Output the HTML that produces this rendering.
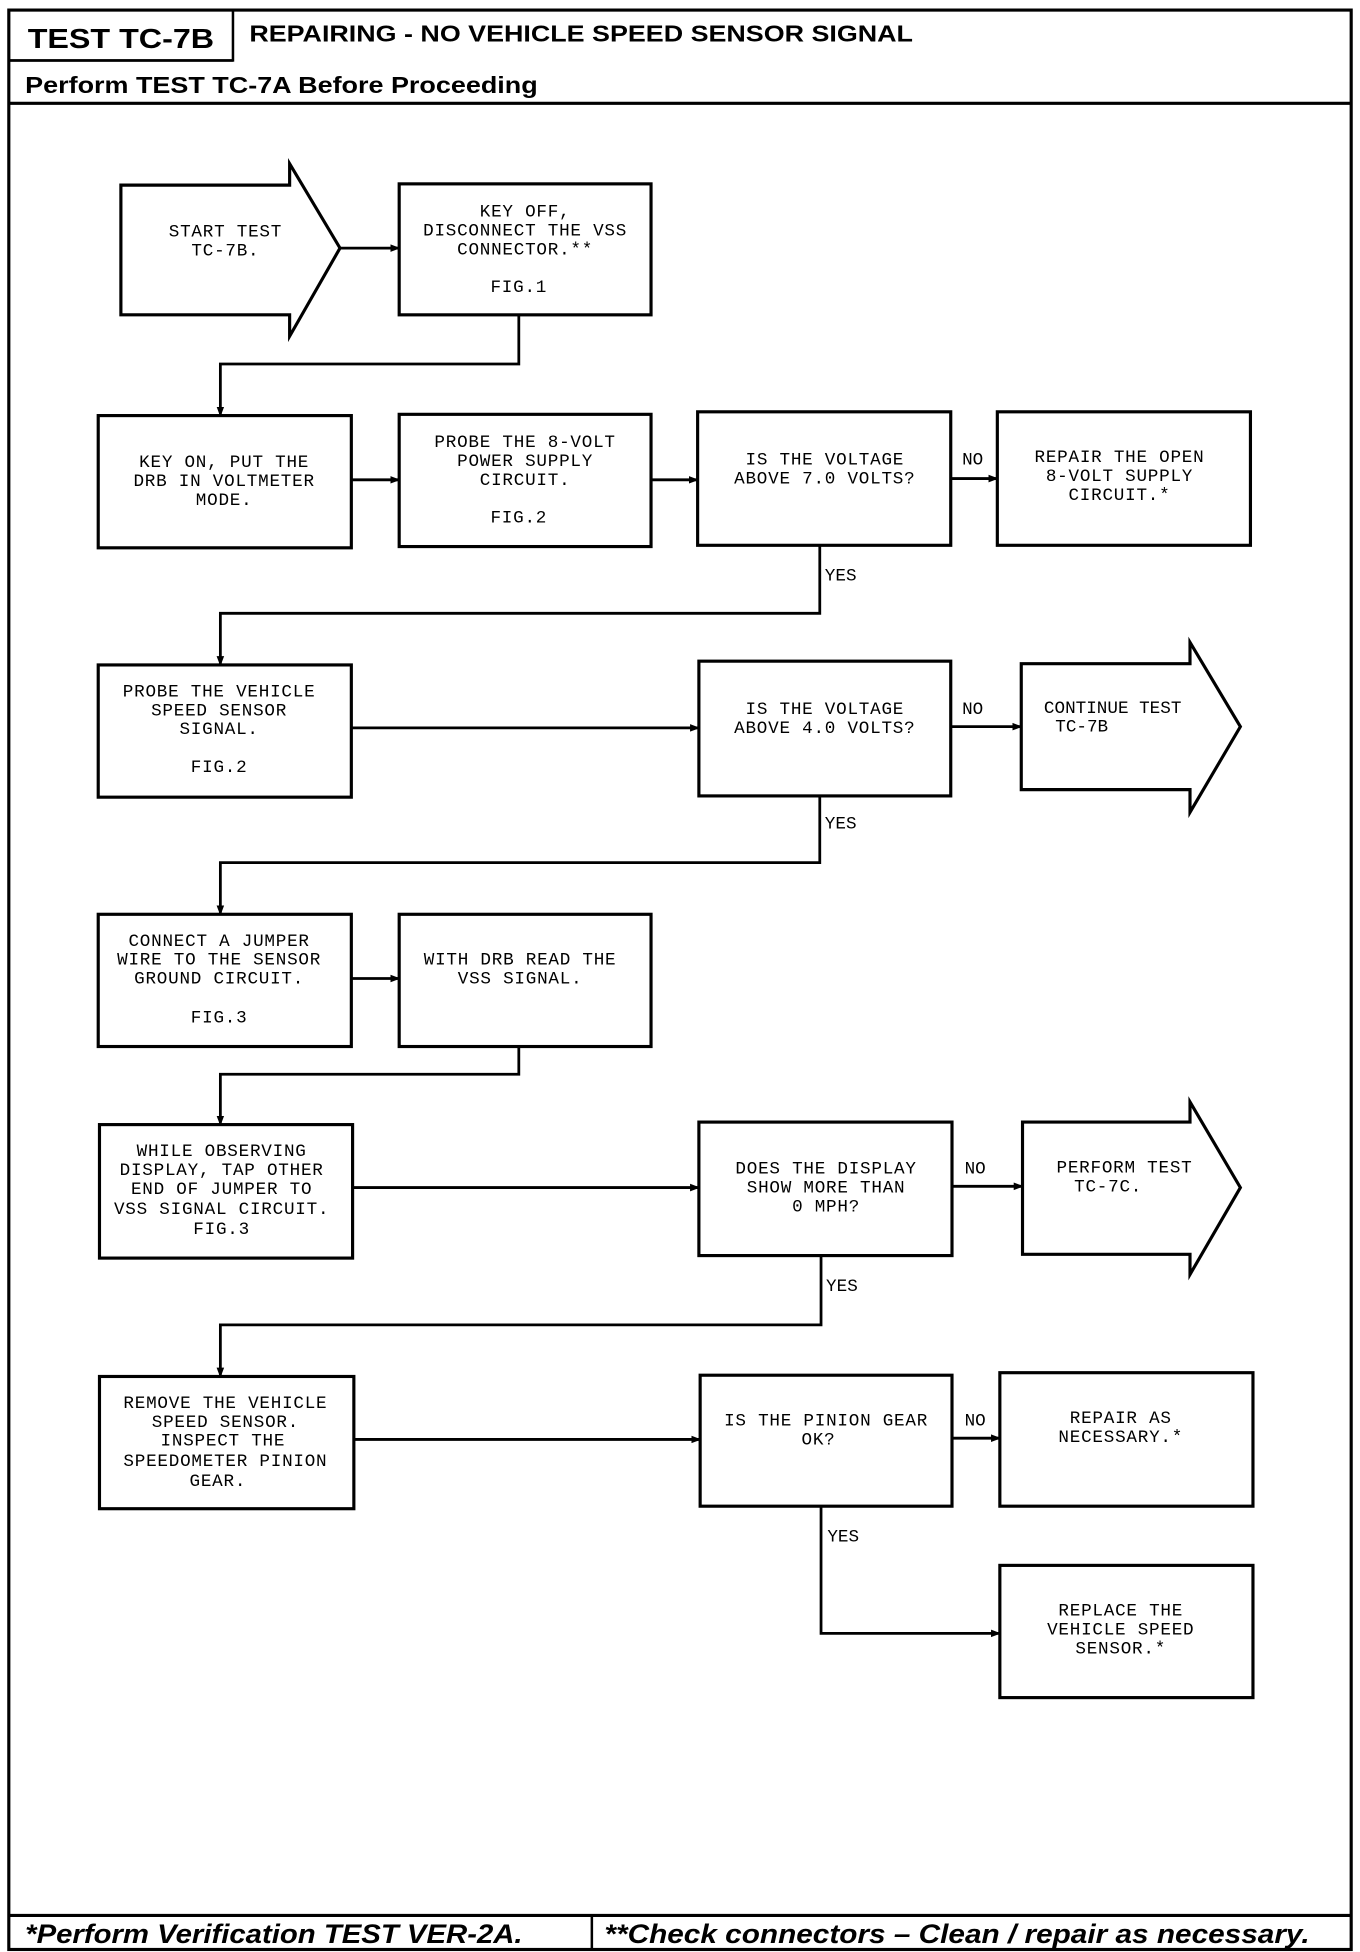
<!DOCTYPE html>
<html><head><meta charset="utf-8"><style>
html,body{margin:0;padding:0;background:#fff;}
svg{display:block;}
.t{font-family:"Liberation Mono",monospace;font-size:14px;letter-spacing:0.6px;text-anchor:middle;fill:#000;}
.l{font-family:"Liberation Mono",monospace;font-size:14px;fill:#000;}
.b{fill:#fff;stroke:#000;stroke-width:2.5;}
.c{fill:none;stroke:#000;stroke-width:2.2;}
.h{font-family:"Liberation Sans",sans-serif;font-weight:bold;fill:#000;}
</style></head><body>
<svg width="1360" height="1952" viewBox="0 0 1080 1550" preserveAspectRatio="none" xmlns="http://www.w3.org/2000/svg">
<defs><marker id="a" markerWidth="8" markerHeight="8" refX="7" refY="4" orient="auto" markerUnits="userSpaceOnUse"><path d="M0,1 L8,4 L0,7z" fill="#000"/></marker></defs>
<rect x="7" y="8" width="1066" height="1540" fill="none" stroke="#000" stroke-width="2.5"/>
<rect x="7" y="8" width="178" height="40" fill="none" stroke="#000" stroke-width="2"/>
<line x1="185" y1="48" x2="7" y2="48" stroke="#000" stroke-width="2"/>
<line x1="7" y1="82" x2="1073" y2="82" stroke="#000" stroke-width="2.5"/>
<text class="h" x="22" y="38" font-size="22" textLength="148" lengthAdjust="spacingAndGlyphs">TEST TC-7B</text>
<text class="h" x="198" y="33" font-size="18" textLength="527" lengthAdjust="spacingAndGlyphs">REPAIRING - NO VEHICLE SPEED SENSOR SIGNAL</text>
<text class="h" x="20" y="74" font-size="18" textLength="407" lengthAdjust="spacingAndGlyphs">Perform TEST TC-7A Before Proceeding</text>
<line x1="7" y1="1521" x2="1073" y2="1521" stroke="#000" stroke-width="2.5"/>
<line x1="470" y1="1521" x2="470" y2="1548" stroke="#000" stroke-width="2"/>
<text class="h" x="20" y="1543" font-size="21" font-style="italic" textLength="395" lengthAdjust="spacingAndGlyphs">*Perform Verification TEST VER-2A.</text>
<text class="h" x="480" y="1543" font-size="21" font-style="italic" textLength="560" lengthAdjust="spacingAndGlyphs">**Check connectors – Clean / repair as necessary.</text>

<path class="b" d="M96,147 L230,147 L230,130 L270,197 L230,267 L230,250 L96,250 Z"/>
<text class="t" x="179" y="188">START TEST</text><text class="t" x="179" y="203">TC-7B.</text>
<rect class="b" x="317" y="146" width="200" height="104"/>
<text class="t" x="417" y="172">KEY OFF,</text><text class="t" x="417" y="187">DISCONNECT THE VSS</text><text class="t" x="417" y="202">CONNECTOR.**</text><text class="t" x="412" y="232">FIG.1</text>
<line class="c" x1="270" y1="197" x2="317" y2="197" marker-end="url(#a)"/>
<polyline class="c" points="412,250 412,289 175,289 175,330" marker-end="url(#a)"/>

<rect class="b" x="78" y="330" width="201" height="105"/>
<text class="t" x="178" y="371">KEY ON, PUT THE</text><text class="t" x="178" y="386">DRB IN VOLTMETER</text><text class="t" x="178" y="401">MODE.</text>
<rect class="b" x="317" y="329" width="200" height="105"/>
<text class="t" x="417" y="355">PROBE THE 8-VOLT</text><text class="t" x="417" y="370">POWER SUPPLY</text><text class="t" x="417" y="385">CIRCUIT.</text><text class="t" x="412" y="415">FIG.2</text>
<rect class="b" x="554" y="327" width="201" height="106"/>
<text class="t" x="655" y="369">IS THE VOLTAGE</text><text class="t" x="655" y="384">ABOVE 7.0 VOLTS?</text>
<rect class="b" x="792" y="327" width="201" height="106"/>
<text class="t" x="889" y="367">REPAIR THE OPEN</text><text class="t" x="889" y="382">8-VOLT SUPPLY</text><text class="t" x="889" y="397">CIRCUIT.*</text>
<line class="c" x1="279" y1="381" x2="317" y2="381" marker-end="url(#a)"/>
<line class="c" x1="517" y1="381" x2="554" y2="381" marker-end="url(#a)"/>
<line class="c" x1="755" y1="380" x2="792" y2="380" marker-end="url(#a)"/>
<text class="l" x="764" y="369">NO</text><text class="l" x="655" y="461">YES</text>
<polyline class="c" points="651,433 651,487 175,487 175,528" marker-end="url(#a)"/>

<rect class="b" x="78" y="528" width="201" height="105"/>
<text class="t" x="174" y="553">PROBE THE VEHICLE</text><text class="t" x="174" y="568">SPEED SENSOR</text><text class="t" x="174" y="583">SIGNAL.</text><text class="t" x="174" y="613">FIG.2</text>
<rect class="b" x="555" y="525" width="200" height="107"/>
<text class="t" x="655" y="567">IS THE VOLTAGE</text><text class="t" x="655" y="582">ABOVE 4.0 VOLTS?</text>
<path class="b" d="M811,527 L945,527 L945,510 L985,577 L945,645 L945,627 L811,627 Z"/>
<text class="l" x="829" y="566">CONTINUE TEST</text><text class="l" x="838" y="581">TC-7B</text>
<line class="c" x1="279" y1="578" x2="555" y2="578" marker-end="url(#a)"/>
<line class="c" x1="755" y1="577" x2="811" y2="577" marker-end="url(#a)"/>
<text class="l" x="764" y="567">NO</text><text class="l" x="655" y="658">YES</text>
<polyline class="c" points="651,632 651,685 175,685 175,726" marker-end="url(#a)"/>

<rect class="b" x="78" y="726" width="201" height="105"/>
<text class="t" x="174" y="751">CONNECT A JUMPER</text><text class="t" x="174" y="766">WIRE TO THE SENSOR</text><text class="t" x="174" y="781">GROUND CIRCUIT.</text><text class="t" x="174" y="812">FIG.3</text>
<rect class="b" x="317" y="726" width="200" height="105"/>
<text class="t" x="413" y="766">WITH DRB READ THE</text><text class="t" x="413" y="781">VSS SIGNAL.</text>
<line class="c" x1="279" y1="777" x2="317" y2="777" marker-end="url(#a)"/>
<polyline class="c" points="412,831 412,853 175,853 175,893" marker-end="url(#a)"/>

<rect class="b" x="79" y="893" width="201" height="106"/>
<text class="t" x="176" y="918">WHILE OBSERVING</text><text class="t" x="176" y="933">DISPLAY, TAP OTHER</text><text class="t" x="176" y="948">END OF JUMPER TO</text><text class="t" x="176" y="964">VSS SIGNAL CIRCUIT.</text><text class="t" x="176" y="980">FIG.3</text>
<rect class="b" x="555" y="891" width="201" height="106"/>
<text class="t" x="656" y="932">DOES THE DISPLAY</text><text class="t" x="656" y="947">SHOW MORE THAN</text><text class="t" x="656" y="962">0 MPH?</text>
<path class="b" d="M812,891 L945,891 L945,875 L985,943 L945,1012 L945,996 L812,996 Z"/>
<text class="t" x="893" y="931">PERFORM TEST</text><text class="t" x="880" y="946">TC-7C.</text>
<line class="c" x1="280" y1="943" x2="555" y2="943" marker-end="url(#a)"/>
<line class="c" x1="756" y1="942" x2="812" y2="942" marker-end="url(#a)"/>
<text class="l" x="766" y="932">NO</text><text class="l" x="656" y="1025">YES</text>
<polyline class="c" points="652,997 652,1052 175,1052 175,1093" marker-end="url(#a)"/>

<rect class="b" x="79" y="1093" width="202" height="105"/>
<text class="t" x="179" y="1118">REMOVE THE VEHICLE</text><text class="t" x="179" y="1133">SPEED SENSOR.</text><text class="t" x="177" y="1148">INSPECT THE</text><text class="t" x="179" y="1164">SPEEDOMETER PINION</text><text class="t" x="173" y="1180">GEAR.</text>
<rect class="b" x="556" y="1092" width="200" height="104"/>
<text class="t" x="656" y="1132">IS THE PINION GEAR</text><text class="t" x="650" y="1147">OK?</text>
<rect class="b" x="794" y="1090" width="201" height="106"/>
<text class="t" x="890" y="1130">REPAIR AS</text><text class="t" x="890" y="1145">NECESSARY.*</text>
<rect class="b" x="794" y="1243" width="201" height="105"/>
<text class="t" x="890" y="1283">REPLACE THE</text><text class="t" x="890" y="1298">VEHICLE SPEED</text><text class="t" x="890" y="1313">SENSOR.*</text>
<line class="c" x1="281" y1="1143" x2="556" y2="1143" marker-end="url(#a)"/>
<line class="c" x1="756" y1="1142" x2="794" y2="1142" marker-end="url(#a)"/>
<text class="l" x="766" y="1132">NO</text><text class="l" x="657" y="1224">YES</text>
<polyline class="c" points="652,1196 652,1297 794,1297" marker-end="url(#a)"/>
</svg>
</body></html>
